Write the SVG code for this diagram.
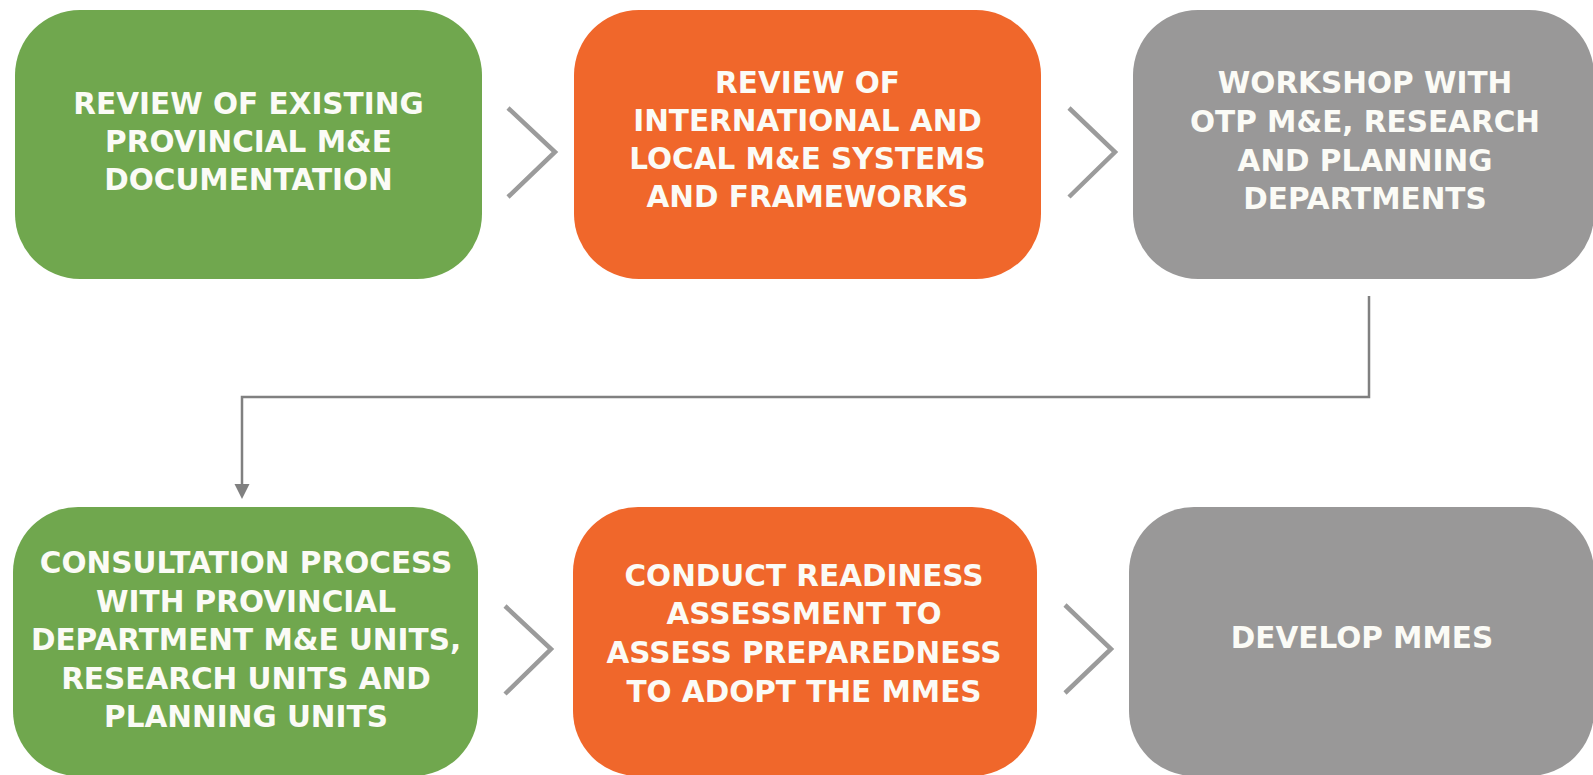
<svg xmlns="http://www.w3.org/2000/svg" width="1593" height="775" viewBox="0 0 1593 775">
<style>
.box{stroke:none}
.g{fill:#70a74e}
.o{fill:#f0672b}
.y{fill:#999898}
.t{font-family:"DejaVu Sans",sans-serif;font-weight:bold;font-size:29.5px;fill:#fbfbf6;text-anchor:middle}
.chev{fill:none;stroke:#9b9b9b;stroke-width:4.5}
.conn{fill:none;stroke:#808080;stroke-width:2.5}
</style>
<rect width="1593" height="775" fill="#ffffff"/>
<g id="connectors">
<path class="chev" d="M508,108 L555,152 L508,197"/>
<path class="chev" d="M1069,108 L1115,152 L1069,197"/>
<path class="chev" d="M505,606 L551,649 L505,694"/>
<path class="chev" d="M1065,605 L1111,649 L1065,693"/>
<path class="conn" d="M1369,296 L1369,397 L242,397 L242,484"/>
<path d="M234.5,484 L249.5,484 L242,499 Z" fill="#808080"/>
</g>
<g id="node1">
<rect class="box g" x="15" y="10" width="467" height="269" rx="65"/>
<text class="t" x="248.5" y="114">REVIEW OF EXISTING</text>
<text class="t" x="248.5" y="152">PROVINCIAL M&amp;E</text>
<text class="t" x="248.5" y="190">DOCUMENTATION</text>
</g>
<g id="node2">
<rect class="box o" x="574" y="10" width="467" height="269" rx="65"/>
<text class="t" x="807.5" y="93">REVIEW OF</text>
<text class="t" x="807.5" y="131">INTERNATIONAL AND</text>
<text class="t" x="807.5" y="169">LOCAL M&amp;E SYSTEMS</text>
<text class="t" x="807.5" y="207">AND FRAMEWORKS</text>
</g>
<g id="node3">
<rect class="box y" x="1133" y="10" width="461" height="269" rx="65"/>
<text class="t" x="1365" y="93">WORKSHOP WITH</text>
<text class="t" x="1365" y="132">OTP M&amp;E, RESEARCH</text>
<text class="t" x="1365" y="171">AND PLANNING</text>
<text class="t" x="1365" y="209">DEPARTMENTS</text>
</g>
<g id="node4">
<rect class="box g" x="13" y="507" width="465" height="269" rx="65"/>
<text class="t" x="246" y="573">CONSULTATION PROCESS</text>
<text class="t" x="246" y="612">WITH PROVINCIAL</text>
<text class="t" x="246" y="650">DEPARTMENT M&amp;E UNITS,</text>
<text class="t" x="246" y="689">RESEARCH UNITS AND</text>
<text class="t" x="246" y="727">PLANNING UNITS</text>
</g>
<g id="node5">
<rect class="box o" x="573" y="507" width="464" height="269" rx="65"/>
<text class="t" x="804" y="586">CONDUCT READINESS</text>
<text class="t" x="804" y="624">ASSESSMENT TO</text>
<text class="t" x="804" y="663">ASSESS PREPAREDNESS</text>
<text class="t" x="804" y="702">TO ADOPT THE MMES</text>
</g>
<g id="node6">
<rect class="box y" x="1129" y="507" width="465" height="269" rx="65"/>
<text class="t" x="1362" y="648">DEVELOP MMES</text>
</g>
</svg>
